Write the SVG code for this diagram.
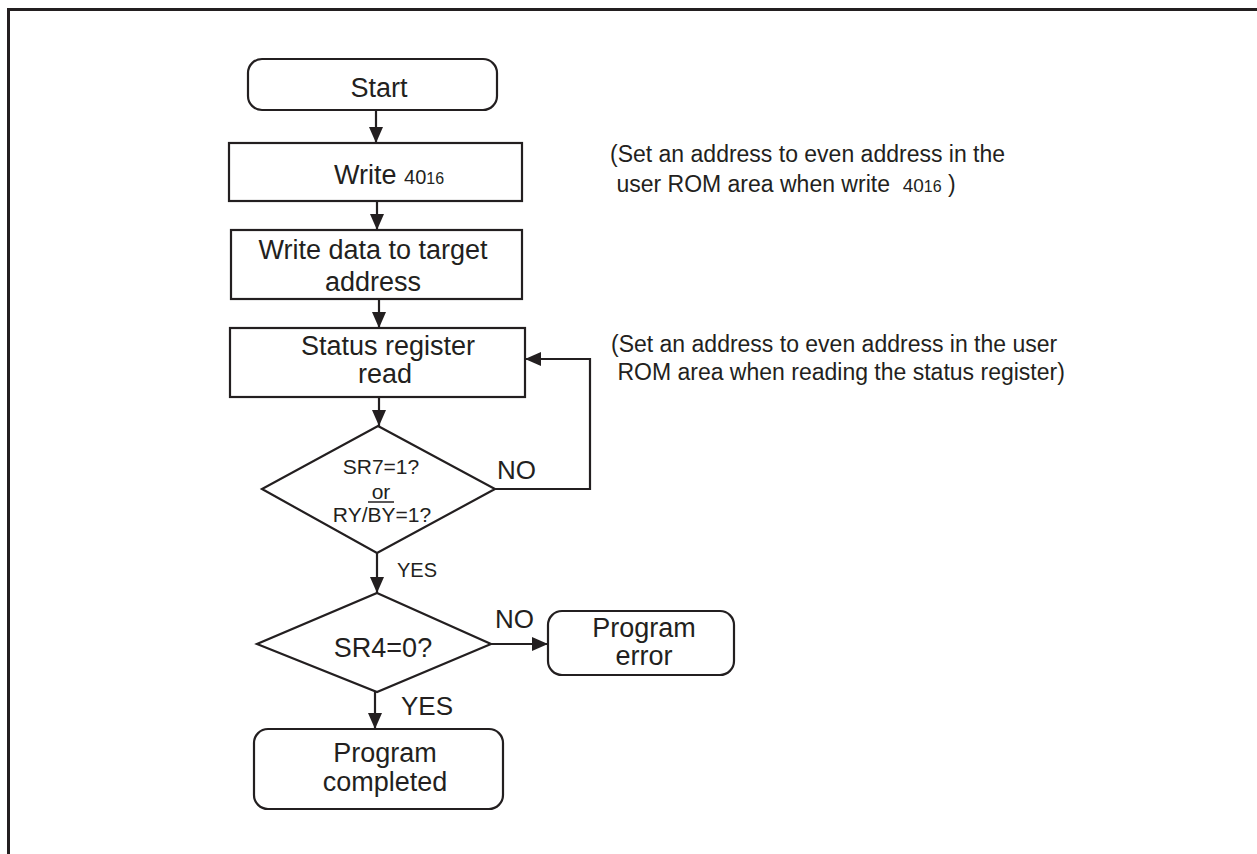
<svg xmlns="http://www.w3.org/2000/svg" width="1257" height="854" viewBox="0 0 1257 854">
<style>
.s{fill:#fff;stroke:#231f20;stroke-width:2.2}
.c{fill:none;stroke:#231f20;stroke-width:2.2}
text{font-family:"Liberation Sans",Arial,sans-serif;fill:#231f20}
.m{font-size:27px;text-anchor:middle}
.d{font-size:21px;text-anchor:middle}
.n{font-size:23px}
</style>
<defs>
<marker id="ah" markerWidth="16" markerHeight="14" refX="16" refY="7" orient="auto" markerUnits="userSpaceOnUse" viewBox="0 0 16 14">
<path d="M0,0 L16,7 L0,14 Z" fill="#231f20"/>
</marker>
</defs>
<rect width="1257" height="854" fill="#fff"/>
<path d="M8.5,854 L8.5,9.5 L1257,9.5" fill="none" stroke="#231f20" stroke-width="3"/>

<g id="start">
<rect class="s" x="248" y="59" width="249" height="51" rx="14"/>
<text class="m" x="379" y="97">Start</text>
</g>
<g id="write40">
<rect class="s" x="229" y="143" width="293" height="58"/>
<text x="334" y="184" font-size="27">Write <tspan font-size="20">40</tspan><tspan font-size="16">16</tspan></text>
</g>
<g id="writedata">
<rect class="s" x="231" y="230" width="291" height="69"/>
<text class="m" x="373" y="259">Write data to target</text>
<text class="m" x="373" y="291">address</text>
</g>
<g id="status">
<rect class="s" x="230" y="328" width="295" height="69"/>
<text class="m" x="388" y="355">Status register</text>
<text class="m" x="385" y="383">read</text>
</g>
<g id="dec1">
<polygon class="s" points="378,426 495,489 377,553 262,489"/>
<text class="d" x="381" y="474">SR7=1?</text>
<text class="d" x="381" y="499">or</text>
<text class="d" x="382" y="522">RY/BY=1?</text>
<line x1="368" y1="502" x2="394" y2="502" stroke="#231f20" stroke-width="1.5"/>
</g>
<g id="dec2">
<polygon class="s" points="377,593 491,644 377,692 257,644"/>
<text class="m" x="383" y="657">SR4=0?</text>
</g>
<g id="error">
<rect class="s" x="548" y="611" width="186" height="64" rx="14"/>
<text class="m" x="644" y="637">Program</text>
<text class="m" x="644" y="665">error</text>
</g>
<g id="completed">
<rect class="s" x="254" y="729" width="249" height="80" rx="14"/>
<text class="m" x="385" y="762">Program</text>
<text class="m" x="385" y="791">completed</text>
</g>
<g id="notes">
<text class="n" x="610" y="162">(Set an address to even address in the</text>
<text class="n" x="610" y="192" xml:space="preserve"> user ROM area when write  <tspan font-size="19">40</tspan><tspan font-size="16">16</tspan> )</text>
<text class="n" x="611" y="352">(Set an address to even address in the user</text>
<text class="n" x="611" y="380" xml:space="preserve"> ROM area when reading the status register)</text>
</g>
<g id="connectors">
<line class="c" x1="376" y1="110" x2="376" y2="143" marker-end="url(#ah)"/>
<line class="c" x1="377" y1="201" x2="377" y2="230" marker-end="url(#ah)"/>
<line class="c" x1="379" y1="299" x2="379" y2="328" marker-end="url(#ah)"/>
<line class="c" x1="379" y1="397" x2="379" y2="426" marker-end="url(#ah)"/>
<polyline class="c" points="495,489 590,489 590,359 525,359" marker-end="url(#ah)"/>
<line class="c" x1="377" y1="553" x2="377" y2="593" marker-end="url(#ah)"/>
<line class="c" x1="491" y1="644" x2="548" y2="644" marker-end="url(#ah)"/>
<line class="c" x1="375" y1="692" x2="375" y2="729" marker-end="url(#ah)"/>
<text x="497" y="479" font-size="26">NO</text>
<text x="397" y="577" font-size="20">YES</text>
<text x="495" y="628" font-size="26">NO</text>
<text x="401" y="715" font-size="26">YES</text>
</g>
</svg>
